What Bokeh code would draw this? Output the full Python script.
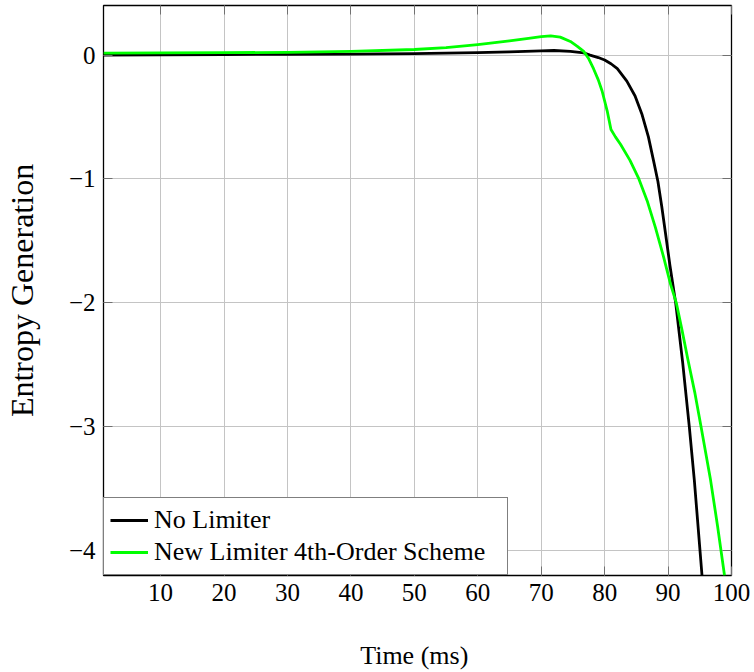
from bokeh.plotting import figure
from bokeh.models import (Range1d, FixedTicker, LinearAxis, Legend, LegendItem)
from bokeh.embed import file_html
from bokeh.resources import INLINE

# ---- data ----
t_nolim = [1, 10, 20, 30, 40, 50, 60, 65, 70, 72, 74.6, 76.7, 77.7, 79, 80, 81, 82,
           83.5, 84.8, 85.9, 86.9, 87.7, 88.4, 89.0, 89.6, 90.3, 91.2, 92.3, 93.35,
           94.14, 95.35]
v_nolim = [0.0, 0.002, 0.004, 0.006, 0.008, 0.012, 0.02, 0.026, 0.034, 0.037, 0.03, 0.018,
           0.0, -0.02, -0.04, -0.07, -0.11, -0.21, -0.33, -0.48, -0.66, -0.85, -1.02,
           -1.22, -1.44, -1.7, -2.0, -2.48, -3.0, -3.43, -4.2]

t_newlim = [1, 10, 20, 30, 40, 50, 55, 60, 65, 68, 70, 71.5, 73, 74.6, 75.7, 76.7,
            77.5, 78.25, 79.0, 79.6, 80.4, 81.0, 81.7, 82.5, 84.0, 85.4, 86.7, 88.0,
            89.3, 90.4, 91.3, 92.2, 93.1, 94.2, 95.2, 96.7, 97.8, 98.9]
v_newlim = [0.016, 0.017, 0.019, 0.022, 0.03, 0.045, 0.06, 0.085, 0.115, 0.135, 0.148,
            0.155, 0.145, 0.11, 0.07, 0.03, -0.03, -0.11, -0.2, -0.29, -0.45, -0.6,
            -0.66, -0.72, -0.85, -1.0, -1.175, -1.39, -1.63, -1.85, -2.0, -2.22,
            -2.45, -2.72, -3.0, -3.43, -3.8, -4.2]

x_ticks = [10, 20, 30, 40, 50, 60, 70, 80, 90, 100]
y_ticks = [-4, -3, -2, -1, 0]
y_tick_labels = ["\u22124", "\u22123", "\u22122", "\u22121", "0"]

series_names = ["No Limiter", "New Limiter 4th-Order Scheme"]
series_colors = ["#000000", "#00ff00"]

FONT = "Liberation Serif"
GRID = "#c4c4c4"
TICK = "#707070"

p = figure(width=754, height=672, output_backend="svg", toolbar_location=None,
           x_range=Range1d(1, 100), y_range=Range1d(-4.2, 0.4),
           min_border_left=103, min_border_right=23, min_border_top=5,
           min_border_bottom=97)

p.background_fill_color = "white"
p.border_fill_color = "white"
p.outline_line_color = "black"
p.outline_line_width = 1.3

r1 = p.line(t_nolim, v_nolim, line_color=series_colors[0], line_width=2.8,
            line_join="round")
r2 = p.line(t_newlim, v_newlim, line_color=series_colors[1], line_width=2.8,
            line_join="round")

# axes
xa = p.xaxis[0]
ya = p.yaxis[0]
xa.ticker = FixedTicker(ticks=x_ticks)
ya.ticker = FixedTicker(ticks=y_ticks)
ya.major_label_overrides = {float(k): lab for k, lab in zip(y_ticks, y_tick_labels)}
for ax in (xa, ya):
    ax.axis_line_color = None
    ax.major_tick_in = 9
    ax.major_tick_out = 0
    ax.minor_tick_line_color = None
    ax.major_tick_line_color = TICK
    ax.major_label_text_font = FONT
    ax.major_label_text_font_size = "25px"
    ax.major_label_text_color = "black"
    ax.axis_label_text_font = FONT
    ax.axis_label_text_font_style = "normal"
    ax.axis_label_text_color = "black"
    ax.major_label_standoff = 8

xa.axis_label = "Time  (ms)"
xa.axis_label_text_font_size = "26px"
xa.axis_label_standoff = 37
ya.axis_label = "Entropy Generation"
ya.axis_label_text_font_size = "32px"
ya.axis_label_standoff = 26

# mirrored ticks on top / right
for loc, tk in (("above", x_ticks), ("right", y_ticks)):
    ax = LinearAxis(ticker=FixedTicker(ticks=tk))
    ax.axis_line_color = None
    ax.major_tick_in = 9
    ax.major_tick_out = 0
    ax.minor_tick_line_color = None
    ax.major_tick_line_color = TICK
    ax.major_label_text_font_size = "0px"
    ax.major_label_standoff = 0
    ax.major_label_text_alpha = 0
    p.add_layout(ax, loc)

p.xgrid.ticker = FixedTicker(ticks=x_ticks)
p.ygrid.ticker = FixedTicker(ticks=y_ticks)
for g in (p.xgrid[0], p.ygrid[0]):
    g.grid_line_color = GRID
    g.grid_line_width = 1

legend = Legend(items=[LegendItem(label=series_names[0], renderers=[r1]),
                       LegendItem(label=series_names[1], renderers=[r2])],
                location="bottom_left")
legend.margin = 0
legend.padding = 6
legend.spacing = 0
legend.glyph_width = 38
legend.glyph_height = 32
legend.label_height = 32
legend.label_width = 347
legend.label_standoff = 6
legend.label_text_font = FONT
legend.label_text_font_size = "26px"
legend.label_text_color = "black"
legend.border_line_color = "black"
legend.border_line_width = 1.3
legend.background_fill_color = "white"
legend.background_fill_alpha = 1
p.add_layout(legend)

open("out.html", "w").write(file_html(p, INLINE))
